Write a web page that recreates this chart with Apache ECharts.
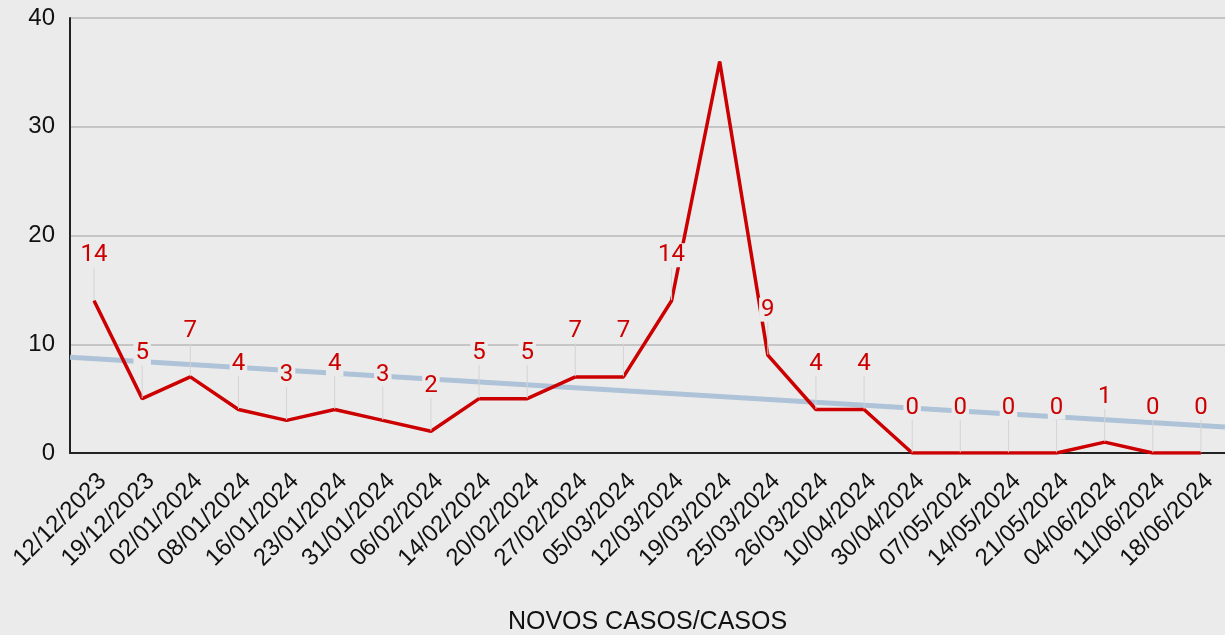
<!DOCTYPE html>
<html><head><meta charset="utf-8">
<script src="https://cdn.jsdelivr.net/npm/echarts@6/dist/echarts.min.js"></script>
<style>html,body{margin:0;padding:0;background:#ebebeb}#c{width:1225px;height:635px}</style>
</head><body><div id="c"></div>
<script>
const categories = ['12/12/2023','19/12/2023','02/01/2024','08/01/2024','16/01/2024','23/01/2024','31/01/2024','06/02/2024','14/02/2024','20/02/2024','27/02/2024','05/03/2024','12/03/2024','19/03/2024','25/03/2024','26/03/2024','10/04/2024','30/04/2024','07/05/2024','14/05/2024','21/05/2024','04/06/2024','11/06/2024','18/06/2024'];
const casos = [14,5,7,4,3,4,3,2,5,5,7,7,14,36,9,4,4,0,0,0,0,1,0,0];
const hiddenLabelIndex = [13];
const trendX = [-0.5, 23.5];
const trendY = [8.8, 2.4];
const yTicks = {min:0, max:40, interval:10};

const chart = echarts.init(document.getElementById('c'));
const data = casos.map((v,i)=>{
  const hide = hiddenLabelIndex.includes(i);
  return {value:v, label:{show:!hide}, labelLine:{show:!hide}};
});
chart.setOption({
  backgroundColor:'#ebebeb',
  animation:false,
  grid:{left:70,right:0,top:18,bottom:182,outerBoundsMode:'none',containLabel:false},
  xAxis:[{
    type:'category', data:categories, boundaryGap:true,
    name:'NOVOS CASOS/CASOS', nameLocation:'middle', nameGap:157,
    nameTextStyle:{color:'#111',fontSize:25,fontFamily:'Liberation Sans'},
    axisLine:{lineStyle:{color:'#222',width:2}},
    axisTick:{show:false},
    axisLabel:{rotate:45,interval:0,color:'#111',fontSize:24,fontFamily:'Liberation Sans',margin:16,verticalAlign:'top'}
  },{
    type:'value', min:-0.5, max:23.5, show:false
  }],
  yAxis:{
    type:'value', min:yTicks.min, max:yTicks.max, interval:yTicks.interval,
    axisLine:{show:true,onZero:false,lineStyle:{color:'#222',width:2}},
    axisTick:{show:false},
    axisLabel:{color:'#111',fontSize:24,fontFamily:'Liberation Sans',margin:15},
    splitLine:{lineStyle:{color:'#b9b9b9',width:1.5}}
  },
  series:[{
    type:'line', xAxisIndex:1, data:trendX.map((x,i)=>[x,trendY[i]]),
    symbol:'none', lineStyle:{color:'#aec3d8',width:5}, z:1, silent:true
  },{
    type:'line', data:data, symbol:'circle', symbolSize:1, showSymbol:true, z:3,
    itemStyle:{color:'#cc0000'},
    lineStyle:{color:'#cc0000',width:3.5},
    label:{show:true,position:'top',distance:0,color:'#cc0000',fontSize:24,fontFamily:'Roboto',
      backgroundColor:'#ebebeb',padding:[0,2]},
    labelLayout:{dy:-33},
    labelLine:{show:true,lineStyle:{color:'#d4d4d4',width:1}}
  }]
});
</script></body></html>
